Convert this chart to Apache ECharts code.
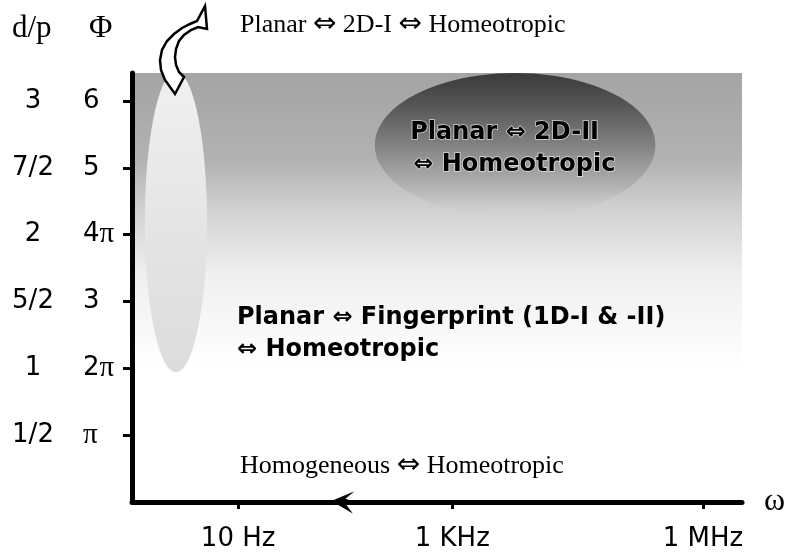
<!DOCTYPE html>
<html><head><meta charset="utf-8">
<script src="https://cdn.jsdelivr.net/npm/echarts@6/dist/echarts.min.js"></script>
<style>html,body{margin:0;padding:0;background:#fff}#chart{width:794px;height:559px}</style>
</head><body><div id="chart"></div>
<script>
// ---------- data ----------
const omegaTickValues = [17.4, 52.5, 93.6];
const omegaTickLabels = ['10 Hz', '1 KHz', '1 MHz'];
const phiTickValues = [1, 2, 3, 4, 5, 6];
const phiTickLabels = ['π', '2π', '3', '4π', '5', '6'];
const dpTickLabels = ['1/2', '1', '5/2', '2', '7/2', '3'];

// stippled upper band (Planar <-> Fingerprint region background)
const bandOmega = [0, 100];
const bandPhi = [2.0, 6.42];

// elliptical regions
const ellipseNames = ['2D-II', '2D-I'];
const ellipseOmega = [62.8, 7.2];
const ellipsePhi = [5.34, 4.19];
const ellipseOmegaRadius = [23, 5.1];
const ellipsePhiRadius = [1.08, 2.25];

// annotations
const serifNotes = ['Planar ⇔ 2D-I ⇔ Homeotropic', 'Homogeneous ⇔ Homeotropic'];
const serifOmega = [17.7, 17.7];
const serifPhi = [7.14, 0.54];

const boldNotes = ['Planar ⇔ Fingerprint (1D-I & -II)', '⇔ Homeotropic', 'Planar ⇔ 2D-II', '⇔ Homeotropic'];
const boldOmega = [17.2, 17.2, 45.6, 46.1];
const boldPhi = [2.75, 2.28, 5.52, 5.04];

// ---------- chart ----------
const chart = echarts.init(document.getElementById('chart'), null, {renderer: 'canvas'});
const LG = echarts.graphic.LinearGradient;
const sansFont = '"DejaVu Sans", Verdana, sans-serif';
const serifFont = '"Liberation Serif", "Times New Roman", serif';

const arrowPoints = [[165,80],[161,70],[160,60],[162,50],[167,41],[174,34],[182,28],[190,24],[197,21],
  [205,6],[207,29],[198,27],[191,30],[184,35],[179,41],[176,49],[175,57],[176,65],[179,72],[184,77],[175,94]];
const breakPoints = [[350,494],[333,501],[350,511],[344,503],[352,502],[344,499]];

const piRich = {p: {fontFamily: serifFont, fontSize: 29, color: '#000'}};
const phiFormatter = v => {
  const i = phiTickValues.indexOf(v);
  return i >= 0 ? phiTickLabels[i].replace('π', '{p|π}') : '';
};

const option = {
  animation: false,
  backgroundColor: '#ffffff',
  grid: {left: 132, right: 52, top: 73, bottom: 57},
  xAxis: {
    type: 'value', min: 0, max: 100, interval: 10, z: 10,
    splitLine: {show: false},
    axisLine: {show: true, lineStyle: {color: '#000', width: 5}},
    axisTick: {show: true, customValues: omegaTickValues, length: 7, lineStyle: {color: '#000', width: 3}},
    axisLabel: {
      show: true, customValues: omegaTickValues, margin: 24,
      color: '#000', fontSize: 26, fontFamily: sansFont,
      formatter: v => { const i = omegaTickValues.indexOf(v); return i >= 0 ? omegaTickLabels[i] : ''; }
    },
    name: 'ω', nameLocation: 'end', nameGap: 22,
    nameTextStyle: {color: '#000', fontSize: 32, fontFamily: serifFont}
  },
  yAxis: [{
    type: 'value', min: 0, max: 6.42, interval: 1, z: 10,
    splitLine: {show: false},
    axisLine: {show: true, lineStyle: {color: '#000', width: 5}},
    axisTick: {show: true, customValues: phiTickValues, length: 9, lineStyle: {color: '#000', width: 3}},
    axisLabel: {
      show: true, customValues: phiTickValues, margin: 49, align: 'left',
      color: '#000', fontSize: 26, fontFamily: sansFont,
      formatter: phiFormatter, rich: piRich
    }
  }, {
    type: 'value', min: 0, max: 6.42, interval: 1, position: 'left', z: 10,
    splitLine: {show: false},
    axisLine: {show: false}, axisTick: {show: false},
    axisLabel: {
      show: true, customValues: phiTickValues, margin: 99, align: 'center',
      color: '#000', fontSize: 26, fontFamily: sansFont,
      formatter: v => { const i = phiTickValues.indexOf(v); return i >= 0 ? dpTickLabels[i] : ''; }
    }
  }],
  series: [
    {
      name: 'band', type: 'custom', silent: true, z: 1,
      encode: {x: 0, y: 1},
      data: [[bandOmega[0], bandPhi[0], bandOmega[1], bandPhi[1]]],
      renderItem: (params, api) => {
        const p0 = api.coord([api.value(0), api.value(3)]);
        const p1 = api.coord([api.value(2), api.value(1)]);
        return {
          type: 'rect',
          shape: {x: p0[0], y: p0[1], width: p1[0] - p0[0], height: p1[1] - p0[1]},
          style: {fill: new LG(0, 0, 0, 1, [
            {offset: 0, color: '#a4a4a4'},
            {offset: 0.3, color: '#b2b2b2'},
            {offset: 0.48, color: '#d4d4d4'},
            {offset: 0.68, color: '#efefef'},
            {offset: 1, color: '#ffffff'}
          ])}
        };
      }
    },
    {
      name: 'regions', type: 'custom', silent: true, z: 2,
      encode: {x: 0, y: 1},
      data: ellipseOmega.map((o, i) => [o, ellipsePhi[i], ellipseOmegaRadius[i], ellipsePhiRadius[i]]),
      renderItem: (params, api) => {
        const cx = api.value(0), cy = api.value(1), rx = api.value(2), ry = api.value(3);
        const pts = [];
        for (let k = 0; k < 96; k++) {
          const t = k / 96 * Math.PI * 2;
          pts.push(api.coord([cx + rx * Math.cos(t), cy + ry * Math.sin(t)]));
        }
        const fill = params.dataIndex === 0
          ? new LG(0, 0, 0, 1, [
              {offset: 0, color: '#3a3a3a'},
              {offset: 0.22, color: '#555555'},
              {offset: 0.5, color: '#828282'},
              {offset: 0.78, color: 'rgba(165,165,165,0.6)'},
              {offset: 1, color: 'rgba(210,210,210,0.15)'}
            ])
          : new LG(0, 0, 0, 1, [
              {offset: 0, color: '#f0f0f0'},
              {offset: 0.5, color: '#e5e5e5'},
              {offset: 1, color: '#dcdcdc'}
            ]);
        return {type: 'polygon', shape: {points: pts}, style: {fill: fill}};
      }
    },
    {
      name: 'serif notes', type: 'custom', silent: true, z: 5,
      encode: {x: 0, y: 1},
      data: serifOmega.map((o, i) => [o, serifPhi[i]]),
      renderItem: (params, api) => {
        const c = api.coord([api.value(0), api.value(1)]);
        return {type: 'text', x: c[0], y: c[1], style: {
          text: serifNotes[params.dataIndex].replace(/⇔/g, '{arr|⇔}'),
          fill: '#000', font: '26px ' + serifFont, align: 'left', verticalAlign: 'middle',
          rich: {arr: {font: '28px ' + sansFont, fill: '#000'}}
        }};
      }
    },
    {
      name: 'bold notes', type: 'custom', silent: true, z: 5,
      encode: {x: 0, y: 1},
      data: boldOmega.map((o, i) => [o, boldPhi[i]]),
      renderItem: (params, api) => {
        const c = api.coord([api.value(0), api.value(1)]);
        const halo = params.dataIndex >= 2;
        return {type: 'text', x: c[0], y: c[1], style: {
          text: boldNotes[params.dataIndex], fill: '#000',
          font: 'bold 24px ' + sansFont, align: 'left', verticalAlign: 'middle',
          stroke: halo ? 'rgba(255,255,255,0.7)' : null,
          lineWidth: halo ? 1.5 : 0
        }};
      }
    }
  ],
  graphic: [
    {type: 'text', x: 12, y: 13, silent: true, style: {text: 'd/p', fill: '#000', font: '31px ' + serifFont}},
    {type: 'text', x: 89, y: 13, silent: true, style: {text: 'Φ', fill: '#000', font: '32px ' + serifFont}},
    {type: 'polygon', silent: true, z: 100,
      shape: {points: arrowPoints},
      style: {fill: '#ffffff', stroke: '#000', lineWidth: 2.5}
    },
    {type: 'polygon', silent: true, z: 100,
      shape: {points: breakPoints},
      style: {fill: '#000', stroke: '#000', lineWidth: 1.5}
    }
  ]
};
chart.setOption(option);
</script>
</body></html>
